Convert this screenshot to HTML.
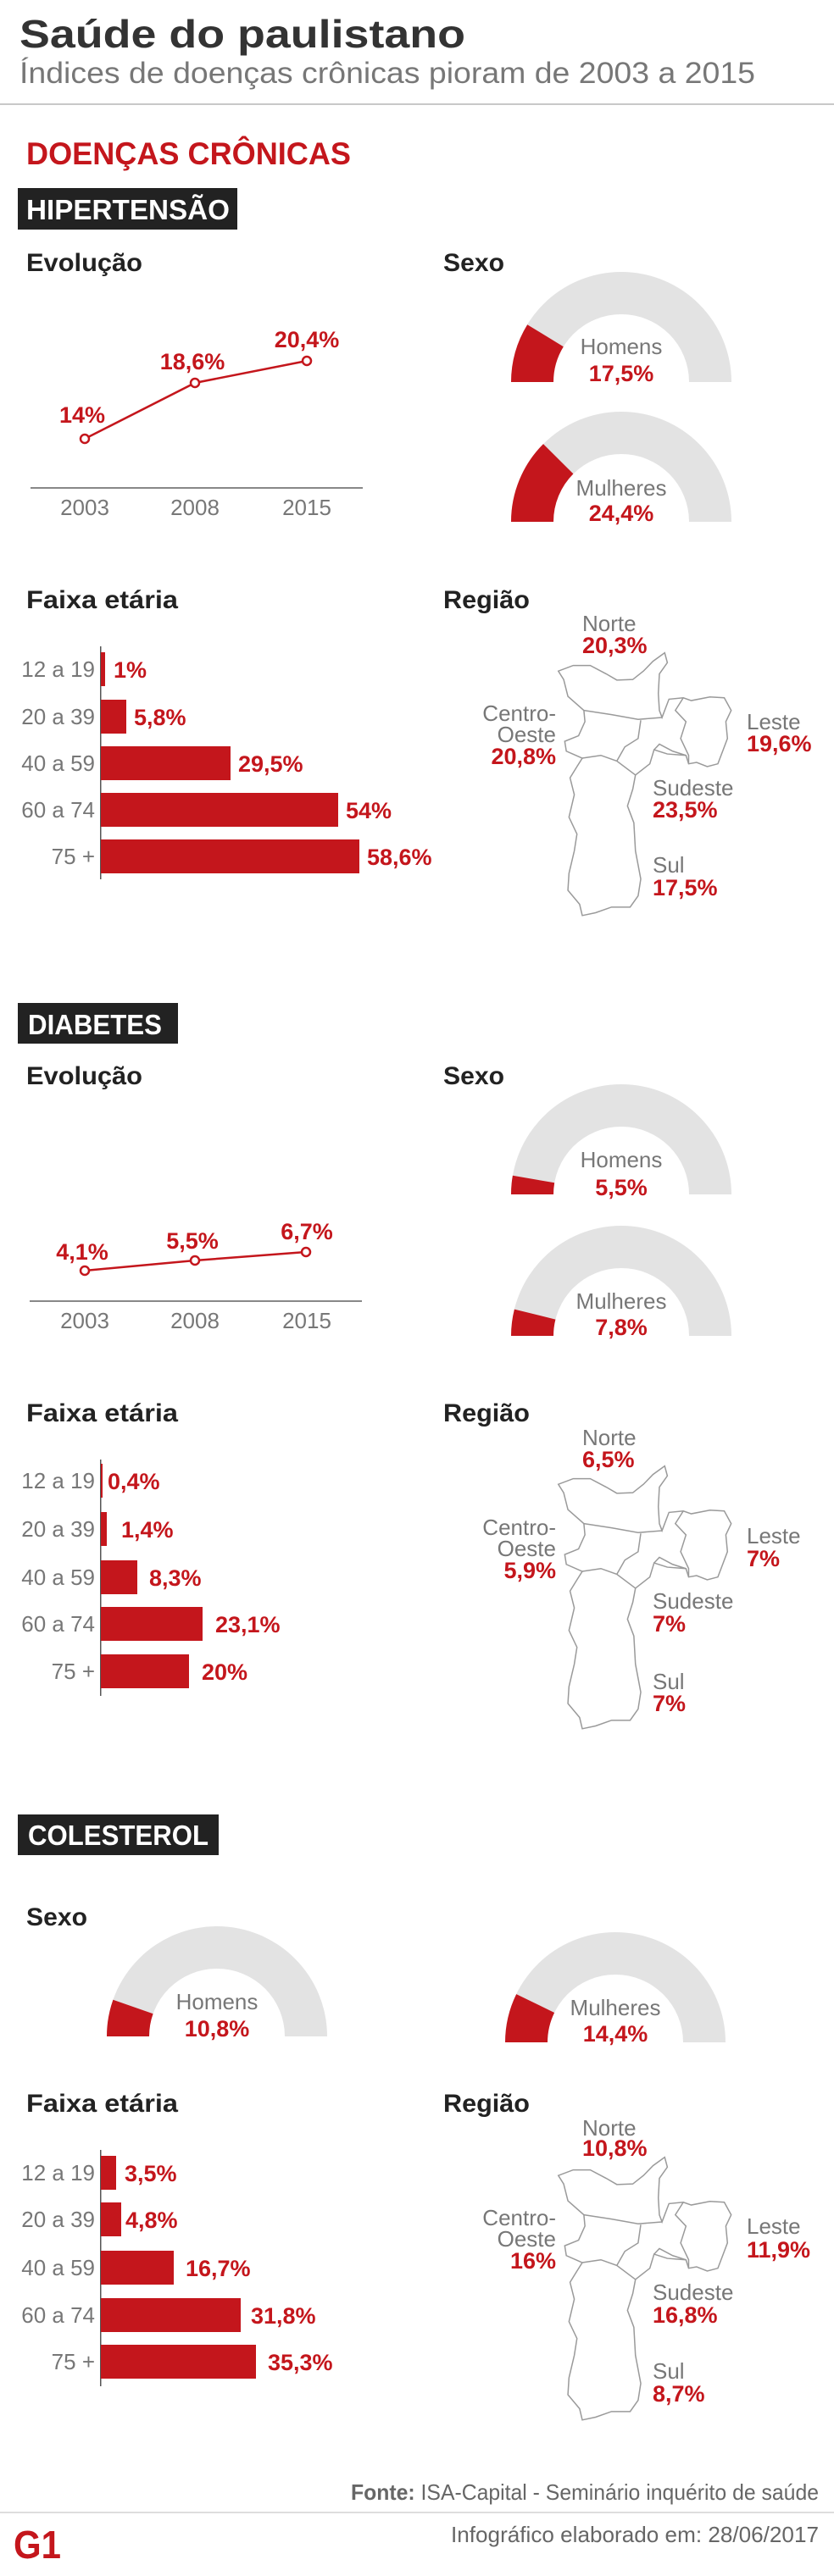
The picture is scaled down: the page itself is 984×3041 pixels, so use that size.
<!DOCTYPE html>
<html><head><meta charset="utf-8"><style>
html,body{margin:0;padding:0;background:#fff;}
svg{display:block;}
text{font-family:"Liberation Sans",sans-serif;}
.h{font-weight:bold;fill:#222;font-size:30px;}
.g{fill:#777;font-size:26px;}
.v{fill:#c4161c;font-weight:bold;font-size:27px;}
.box{fill:#222;}
.bt{fill:#fff;font-weight:bold;font-size:33px;}
.bar{fill:#c4161c;}
.map{fill:#fff;stroke:#9a9a9a;stroke-width:1.5;}
.ml{fill:none;stroke:#9a9a9a;stroke-width:1.5;}
</style></head><body>
<svg width="984" height="3041" viewBox="0 0 984 3041" xmlns="http://www.w3.org/2000/svg">
<defs>
<g id="map">
<polygon class="map" vector-effect="non-scaling-stroke" points="1250,395 1255,430 1240,470 1238,540 1240,600 1245,625 1258,560 1285,555 1300,565 1335,552 1362,555 1375,600 1365,640 1368,700 1360,740 1350,790 1330,800 1310,785 1295,790 1290,760 1255,755 1230,740 1222,790 1195,830 1190,880 1180,940 1192,1000 1195,1100 1205,1200 1200,1260 1185,1300 1150,1300 1120,1320 1095,1330 1090,1290 1068,1240 1070,1180 1080,1100 1085,1040 1070,980 1080,900 1072,840 1085,800 1095,770 1065,745 1062,710 1088,690 1100,640 1098,600 1068,550 1060,490 1050,460 1078,440 1110,440 1140,470 1160,492 1190,490 1210,460 1228,425"/>
<polyline class="ml" vector-effect="non-scaling-stroke" points="1098,600 1150,615 1200,632 1245,625"/>
<polyline class="ml" vector-effect="non-scaling-stroke" points="1205,635 1200,700 1175,730 1160,780"/>
<polyline class="ml" vector-effect="non-scaling-stroke" points="1095,770 1130,760 1160,780 1195,830"/>
<polyline class="ml" vector-effect="non-scaling-stroke" points="1285,555 1270,600 1290,640 1280,700 1295,760 1295,790"/>
<polyline class="ml" vector-effect="non-scaling-stroke" points="1230,740 1240,720 1265,745 1290,760"/>
</g>
</defs>

<!-- Header -->
<text x="23" y="56" font-size="46" font-weight="bold" fill="#333" textLength="526" lengthAdjust="spacingAndGlyphs">Saúde do paulistano</text>
<text x="23" y="98" font-size="35" fill="#777" textLength="868" lengthAdjust="spacingAndGlyphs">Índices de doenças crônicas pioram de 2003 a 2015</text>
<rect x="0" y="122" width="984" height="2" fill="#c8c8c8"/>
<text x="31" y="194" font-size="37" font-weight="bold" fill="#c4161c" textLength="383" lengthAdjust="spacingAndGlyphs">DOENÇAS CRÔNICAS</text>

<!-- ========== HIPERTENSAO ========== -->
<rect class="box" x="21" y="222" width="259" height="49"/>
<text class="bt" x="31" y="259" textLength="240" lengthAdjust="spacingAndGlyphs">HIPERTENSÃO</text>
<text class="h" x="31" y="320" textLength="137" lengthAdjust="spacingAndGlyphs">Evolução</text>
<text class="h" x="523" y="320" textLength="72" lengthAdjust="spacingAndGlyphs">Sexo</text>

<polyline points="100,518 230,452 362,426" fill="none" stroke="#c4161c" stroke-width="2.5"/>
<circle cx="100" cy="518" r="5" fill="#fff" stroke="#c4161c" stroke-width="2.5"/>
<circle cx="230" cy="452" r="5" fill="#fff" stroke="#c4161c" stroke-width="2.5"/>
<circle cx="362" cy="426" r="5" fill="#fff" stroke="#c4161c" stroke-width="2.5"/>
<text class="v" x="97" y="499" text-anchor="middle">14%</text>
<text class="v" x="227" y="436" text-anchor="middle">18,6%</text>
<text class="v" x="362" y="410" text-anchor="middle">20,4%</text>
<rect x="36" y="575" width="392" height="2" fill="#888"/>
<text class="g" x="100" y="608" text-anchor="middle">2003</text>
<text class="g" x="230" y="608" text-anchor="middle">2008</text>
<text class="g" x="362" y="608" text-anchor="middle">2015</text>

<!-- gauges -->
<path d="M603,451 A130,130 0 0 1 863,451 L813,451 A80,80 0 0 0 653,451 Z" fill="#e3e3e3"/>
<path d="M603,451 A130,130 0 0 1 622.2,383.2 L664.8,409.3 A80,80 0 0 0 653,451 Z" fill="#c4161c"/>
<text class="g" x="733" y="418" text-anchor="middle">Homens</text>
<text class="v" x="733" y="450" text-anchor="middle">17,5%</text>
<path d="M603,616 A130,130 0 0 1 863,616 L813,616 A80,80 0 0 0 653,616 Z" fill="#e3e3e3"/>
<path d="M603,616 A130,130 0 0 1 641.0,524.1 L676.4,559.4 A80,80 0 0 0 653,616 Z" fill="#c4161c"/>
<text class="g" x="733" y="585" text-anchor="middle">Mulheres</text>
<text class="v" x="733" y="615" text-anchor="middle">24,4%</text>

<text class="h" x="31" y="718" textLength="179" lengthAdjust="spacingAndGlyphs">Faixa etária</text>
<text class="h" x="523" y="718" textLength="102" lengthAdjust="spacingAndGlyphs">Região</text>

<rect x="118" y="763" width="1.5" height="275" fill="#555"/>
<rect class="bar" x="119" y="770" width="5" height="40"/>
<rect class="bar" x="119" y="826" width="30" height="40"/>
<rect class="bar" x="119" y="881" width="153" height="40"/>
<rect class="bar" x="119" y="936" width="280" height="40"/>
<rect class="bar" x="119" y="991" width="305" height="40"/>
<text class="g" x="112" y="799" text-anchor="end">12 a 19</text>
<text class="g" x="112" y="855" text-anchor="end">20 a 39</text>
<text class="g" x="112" y="910" text-anchor="end">40 a 59</text>
<text class="g" x="112" y="965" text-anchor="end">60 a 74</text>
<text class="g" x="112" y="1020" text-anchor="end">75 +</text>
<text class="v" x="134" y="800">1%</text>
<text class="v" x="158" y="856">5,8%</text>
<text class="v" x="281" y="911">29,5%</text>
<text class="v" x="408" y="966">54%</text>
<text class="v" x="433" y="1021">58,6%</text>

<g transform="translate(0,769) scale(0.6274,0.3317) translate(0,-390)"><use href="#map"/></g>
<text class="g" x="687" y="745">Norte</text>
<text class="v" x="687" y="771">20,3%</text>
<text class="g" x="656" y="851" text-anchor="end">Centro-</text>
<text class="g" x="656" y="876" text-anchor="end">Oeste</text>
<text class="v" x="656" y="902" text-anchor="end">20,8%</text>
<text class="g" x="881" y="861">Leste</text>
<text class="v" x="881" y="887">19,6%</text>
<text class="g" x="770" y="939">Sudeste</text>
<text class="v" x="770" y="965">23,5%</text>
<text class="g" x="770" y="1030">Sul</text>
<text class="v" x="770" y="1057">17,5%</text>

<!-- ========== DIABETES ========== -->
<rect class="box" x="21" y="1184" width="189" height="48"/>
<text class="bt" x="33" y="1221" textLength="158" lengthAdjust="spacingAndGlyphs">DIABETES</text>
<text class="h" x="31" y="1280" textLength="137" lengthAdjust="spacingAndGlyphs">Evolução</text>
<text class="h" x="523" y="1280" textLength="72" lengthAdjust="spacingAndGlyphs">Sexo</text>

<polyline points="100,1500 230,1488 361,1478" fill="none" stroke="#c4161c" stroke-width="2.5"/>
<circle cx="100" cy="1500" r="5" fill="#fff" stroke="#c4161c" stroke-width="2.5"/>
<circle cx="230" cy="1488" r="5" fill="#fff" stroke="#c4161c" stroke-width="2.5"/>
<circle cx="361" cy="1478" r="5" fill="#fff" stroke="#c4161c" stroke-width="2.5"/>
<text class="v" x="97" y="1487" text-anchor="middle">4,1%</text>
<text class="v" x="227" y="1474" text-anchor="middle">5,5%</text>
<text class="v" x="362" y="1463" text-anchor="middle">6,7%</text>
<rect x="35" y="1535" width="392" height="2" fill="#888"/>
<text class="g" x="100" y="1568" text-anchor="middle">2003</text>
<text class="g" x="230" y="1568" text-anchor="middle">2008</text>
<text class="g" x="362" y="1568" text-anchor="middle">2015</text>

<path d="M603,1410 A130,130 0 0 1 863,1410 L813,1410 A80,80 0 0 0 653,1410 Z" fill="#e3e3e3"/>
<path d="M603,1410 A130,130 0 0 1 604.9,1387.7 L654.2,1396.3 A80,80 0 0 0 653,1410 Z" fill="#c4161c"/>
<text class="g" x="733" y="1378" text-anchor="middle">Homens</text>
<text class="v" x="733" y="1411" text-anchor="middle">5,5%</text>
<path d="M603,1577 A130,130 0 0 1 863,1577 L813,1577 A80,80 0 0 0 653,1577 Z" fill="#e3e3e3"/>
<path d="M603,1577 A130,130 0 0 1 606.9,1545.6 L655.4,1557.6 A80,80 0 0 0 653,1577 Z" fill="#c4161c"/>
<text class="g" x="733" y="1545" text-anchor="middle">Mulheres</text>
<text class="v" x="733" y="1576" text-anchor="middle">7,8%</text>

<text class="h" x="31" y="1678" textLength="179" lengthAdjust="spacingAndGlyphs">Faixa etária</text>
<text class="h" x="523" y="1678" textLength="102" lengthAdjust="spacingAndGlyphs">Região</text>

<rect x="118" y="1723" width="1.5" height="279" fill="#555"/>
<rect class="bar" x="119" y="1728" width="2" height="40"/>
<rect class="bar" x="119" y="1785" width="7" height="40"/>
<rect class="bar" x="119" y="1842" width="43" height="40"/>
<rect class="bar" x="119" y="1897" width="120" height="40"/>
<rect class="bar" x="119" y="1953" width="104" height="40"/>
<text class="g" x="112" y="1757" text-anchor="end">12 a 19</text>
<text class="g" x="112" y="1814" text-anchor="end">20 a 39</text>
<text class="g" x="112" y="1871" text-anchor="end">40 a 59</text>
<text class="g" x="112" y="1926" text-anchor="end">60 a 74</text>
<text class="g" x="112" y="1982" text-anchor="end">75 +</text>
<text class="v" x="127" y="1758">0,4%</text>
<text class="v" x="143" y="1815">1,4%</text>
<text class="v" x="176" y="1872">8,3%</text>
<text class="v" x="254" y="1927">23,1%</text>
<text class="v" x="238" y="1983">20%</text>

<g transform="translate(0,1729) scale(0.6274,0.3317) translate(0,-390)"><use href="#map"/></g>
<text class="g" x="687" y="1706">Norte</text>
<text class="v" x="687" y="1732">6,5%</text>
<text class="g" x="656" y="1812" text-anchor="end">Centro-</text>
<text class="g" x="656" y="1837" text-anchor="end">Oeste</text>
<text class="v" x="656" y="1863" text-anchor="end">5,9%</text>
<text class="g" x="881" y="1822">Leste</text>
<text class="v" x="881" y="1849">7%</text>
<text class="g" x="770" y="1899">Sudeste</text>
<text class="v" x="770" y="1926">7%</text>
<text class="g" x="770" y="1994">Sul</text>
<text class="v" x="770" y="2020">7%</text>

<!-- ========== COLESTEROL ========== -->
<rect class="box" x="21" y="2142" width="237" height="48"/>
<text class="bt" x="33" y="2178" textLength="213" lengthAdjust="spacingAndGlyphs">COLESTEROL</text>
<text class="h" x="31" y="2273" textLength="72" lengthAdjust="spacingAndGlyphs">Sexo</text>

<path d="M126,2404 A130,130 0 0 1 386,2404 L336,2404 A80,80 0 0 0 176,2404 Z" fill="#e3e3e3"/>
<path d="M126,2404 A130,130 0 0 1 133.4,2360.7 L180.6,2377.3 A80,80 0 0 0 176,2404 Z" fill="#c4161c"/>
<text class="g" x="256" y="2372" text-anchor="middle">Homens</text>
<text class="v" x="256" y="2404" text-anchor="middle">10,8%</text>
<path d="M596,2411 A130,130 0 0 1 856,2411 L806,2411 A80,80 0 0 0 646,2411 Z" fill="#e3e3e3"/>
<path d="M596,2411 A130,130 0 0 1 609.2,2354.1 L654.1,2376.0 A80,80 0 0 0 646,2411 Z" fill="#c4161c"/>
<text class="g" x="726" y="2379" text-anchor="middle">Mulheres</text>
<text class="v" x="726" y="2410" text-anchor="middle">14,4%</text>

<text class="h" x="31" y="2493" textLength="179" lengthAdjust="spacingAndGlyphs">Faixa etária</text>
<text class="h" x="523" y="2493" textLength="102" lengthAdjust="spacingAndGlyphs">Região</text>

<rect x="118" y="2538" width="1.5" height="279" fill="#555"/>
<rect class="bar" x="119" y="2545" width="18" height="40"/>
<rect class="bar" x="119" y="2600" width="24" height="40"/>
<rect class="bar" x="119" y="2657" width="86" height="40"/>
<rect class="bar" x="119" y="2713" width="165" height="40"/>
<rect class="bar" x="119" y="2768" width="183" height="40"/>
<text class="g" x="112" y="2574" text-anchor="end">12 a 19</text>
<text class="g" x="112" y="2629" text-anchor="end">20 a 39</text>
<text class="g" x="112" y="2686" text-anchor="end">40 a 59</text>
<text class="g" x="112" y="2742" text-anchor="end">60 a 74</text>
<text class="g" x="112" y="2797" text-anchor="end">75 +</text>
<text class="v" x="147" y="2575">3,5%</text>
<text class="v" x="148" y="2630">4,8%</text>
<text class="v" x="219" y="2687">16,7%</text>
<text class="v" x="296" y="2743">31,8%</text>
<text class="v" x="316" y="2798">35,3%</text>

<g transform="translate(0,2545) scale(0.6274,0.3317) translate(0,-390)"><use href="#map"/></g>
<text class="g" x="687" y="2521">Norte</text>
<text class="v" x="687" y="2545">10,8%</text>
<text class="g" x="656" y="2627" text-anchor="end">Centro-</text>
<text class="g" x="656" y="2652" text-anchor="end">Oeste</text>
<text class="v" x="656" y="2678" text-anchor="end">16%</text>
<text class="g" x="881" y="2637">Leste</text>
<text class="v" x="881" y="2665">11,9%</text>
<text class="g" x="770" y="2715">Sudeste</text>
<text class="v" x="770" y="2742">16,8%</text>
<text class="g" x="770" y="2808">Sul</text>
<text class="v" x="770" y="2835">8,7%</text>

<!-- Footer -->
<text x="966" y="2951" text-anchor="end" font-size="26" fill="#666" textLength="552" lengthAdjust="spacingAndGlyphs"><tspan font-weight="bold">Fonte:</tspan> ISA-Capital - Seminário inquérito de saúde</text>
<rect x="0" y="2965" width="984" height="2" fill="#ddd"/>
<text x="16" y="3020" font-size="46" font-weight="bold" fill="#c4161c" textLength="56" lengthAdjust="spacingAndGlyphs">G1</text>
<text x="966" y="3001" text-anchor="end" font-size="26" fill="#666" textLength="434" lengthAdjust="spacingAndGlyphs">Infográfico elaborado em: 28/06/2017</text>
</svg>
</body></html>
